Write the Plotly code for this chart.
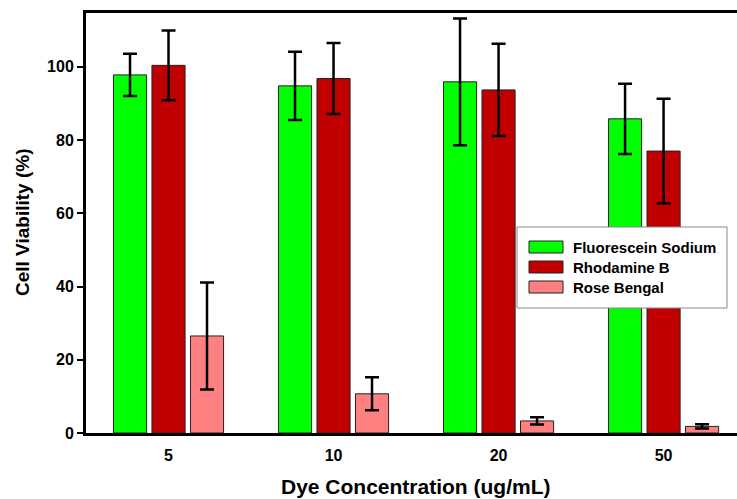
import plotly.graph_objects as go

categories = ["5", "10", "20", "50"]
series_names = ["Fluorescein Sodium", "Rhodamine B", "Rose Bengal"]
fluorescein = [97.8, 94.8, 95.9, 85.8]
fluorescein_err = [5.8, 9.3, 17.3, 9.6]
rhodamine = [100.4, 96.8, 93.7, 77.0]
rhodamine_err = [9.5, 9.7, 12.6, 14.3]
rose = [26.5, 10.7, 3.3, 1.8]
rose_err = [14.6, 4.5, 1.0, 0.6]
colors = ["#00FF00", "#C00000", "#FF8080"]
y_ticks = [0, 20, 40, 60, 80, 100]

fig = go.Figure()
for name, vals, errs, col in zip(series_names,
                                 [fluorescein, rhodamine, rose],
                                 [fluorescein_err, rhodamine_err, rose_err],
                                 colors):
    fig.add_trace(go.Bar(
        x=categories, y=vals, name=name,
        marker=dict(color=col, line=dict(color="#222222", width=1)),
        error_y=dict(type="data", array=errs, visible=True,
                     color="black", thickness=2.5, width=7),
    ))

font_family = "Liberation Sans, Arial, sans-serif"

# plot area in pixels: x 86..737, y 13..433
L, R, T, B = 86, 737, 13, 433
def px(x):
    return (x - L) / (R - L)
def py(y):
    return (B - y) / (B - T)

shapes = [dict(type="rect", xref="paper", yref="paper",
               x0=px(517), x1=px(727), y0=py(308), y1=py(227),
               line=dict(color="#888888", width=1), fillcolor="white", layer="above")]
annotations = [
    dict(text="<b>Dye Concentration (ug/mL)</b>", xref="paper", yref="paper",
         x=px(416), y=0, yshift=-53, xanchor="center", yanchor="middle",
         showarrow=False, font=dict(size=21, family=font_family)),
    dict(text="<b>Cell Viability (%)</b>", xref="paper", yref="paper",
         x=0, xshift=-64, y=0.5, textangle=-90, xanchor="center", yanchor="middle",
         showarrow=False, font=dict(size=19, family=font_family)),
]
for i, (name, col) in enumerate(zip(series_names, colors)):
    cy = 247 + 20 * i
    shapes.append(dict(type="rect", xref="paper", yref="paper",
                       x0=px(529), x1=px(563), y0=py(cy + 6), y1=py(cy - 6),
                       line=dict(color="#222222", width=1), fillcolor=col, layer="above"))
    annotations.append(dict(text="<b>" + name + "</b>", xref="paper", yref="paper",
                            x=px(571), y=py(cy), xanchor="left", yanchor="middle",
                            showarrow=False, font=dict(size=15, family=font_family)))

fig.update_layout(
    width=737, height=499,
    margin=dict(l=L, r=737 - R, t=T, b=499 - B),
    paper_bgcolor="white", plot_bgcolor="white",
    barmode="group", bargap=0.3, bargroupgap=0.14,
    font=dict(family=font_family, color="black"),
    showlegend=False,
    xaxis=dict(type="category", range=[-0.5, 3.445],
               showline=True, linecolor="black", linewidth=3, mirror=True,
               ticks="", showgrid=False, zeroline=False,
               tickfont=dict(size=16, family=font_family, weight="bold"),
               ticklabelstandoff=6),
    yaxis=dict(range=[0, 114.7], tickvals=y_ticks,
               showline=True, linecolor="black", linewidth=3,
               ticks="outside", ticklen=6, tickwidth=2, tickcolor="black",
               showgrid=False, zeroline=False,
               tickfont=dict(size=16, family=font_family, weight="bold")),
    shapes=shapes,
    annotations=annotations,
)
fig.write_html("out.html")
